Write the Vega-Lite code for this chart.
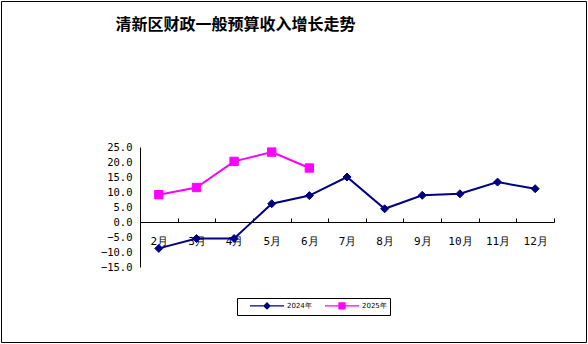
{
  "$schema": "https://vega.github.io/schema/vega-lite/v6.json",
  "width": 585,
  "height": 341,
  "autosize": {"type": "none"},
  "padding": {"left": 1, "top": 1, "right": 2, "bottom": 2},
  "background": "white",
  "config": {"view": {"stroke": "black", "strokeWidth": 1}},
  "data": {
    "values": [
      {"month": "2月", "series": "2024年", "value": -8.8},
      {"month": "3月", "series": "2024年", "value": -5.5},
      {"month": "4月", "series": "2024年", "value": -5.5},
      {"month": "5月", "series": "2024年", "value": 6.1},
      {"month": "6月", "series": "2024年", "value": 8.8},
      {"month": "7月", "series": "2024年", "value": 15.0},
      {"month": "8月", "series": "2024年", "value": 4.4},
      {"month": "9月", "series": "2024年", "value": 8.9},
      {"month": "10月", "series": "2024年", "value": 9.4},
      {"month": "11月", "series": "2024年", "value": 13.3},
      {"month": "12月", "series": "2024年", "value": 11.1},
      {"month": "2月", "series": "2025年", "value": 9.1},
      {"month": "3月", "series": "2025年", "value": 11.5},
      {"month": "4月", "series": "2025年", "value": 20.2},
      {"month": "5月", "series": "2025年", "value": 23.3},
      {"month": "6月", "series": "2025年", "value": 18.0}
    ]
  },
  "encoding": {
    "x": {
      "field": "month",
      "type": "ordinal",
      "bandPosition": 0.5,
      "sort": ["2月","3月","4月","5月","6月","7月","8月","9月","10月","11月","12月"],
      "scale": {
        "type": "band",
        "domain": ["2月","3月","4月","5月","6月","7月","8月","9月","10月","11月","12月"],
        "range": [139, 553],
        "paddingInner": 0,
        "paddingOuter": 0
      },
      "axis": {
        "title": null,
        "orient": "bottom",
        "offset": -120,
        "domainColor": "black",
        "domainWidth": 1,
        "tickBand": "extent",
        "tickColor": "black",
        "tickSize": -4,
        "labelAngle": 0,
        "labelPadding": 17,
        "labelFont": "DejaVu Sans Mono",
        "labelFontSize": 11,
        "labelColor": "black",
        "grid": false
      }
    },
    "y": {
      "field": "value",
      "type": "quantitative",
      "scale": {"domain": [-15, 25], "range": [266, 146], "nice": false, "zero": false},
      "axis": {
        "title": "清新区财政一般预算收入增长走势",
        "titleAngle": 0,
        "titleAlign": "left",
        "titleBaseline": "middle",
        "titleX": -25,
        "titleY": 23.5,
        "titleFont": "Noto Sans CJK SC",
        "titleFontSize": 16,
        "titleFontWeight": "bold",
        "titleColor": "black",
        "orient": "left",
        "offset": -139,
        "values": [-15, -10, -5, 0, 5, 10, 15, 20, 25],
        "format": ".1f",
        "grid": false,
        "ticks": false,
        "domainColor": "black",
        "domainWidth": 1,
        "labelPadding": 8,
        "labelFont": "DejaVu Sans Mono",
        "labelFontSize": 10.5,
        "labelColor": "black"
      }
    }
  },
  "layer": [
    {
      "mark": {"type": "line", "strokeWidth": 2},
      "encoding": {
        "color": {
          "field": "series",
          "type": "nominal",
          "scale": {"domain": ["2024年", "2025年"], "range": ["#000080", "#FF00FF"]},
          "legend": {
            "orient": "none",
            "legendX": 236,
            "legendY": 297,
            "direction": "horizontal",
            "title": null,
            "strokeColor": "black",
            "fillColor": "white",
            "padding": 3,
            "labelFont": "DejaVu Sans",
            "labelFontSize": 7,
            "labelColor": "black",
            "labelOffset": 38,
            "columnPadding": 3,
            "symbolSize": 49,
            "symbolStrokeWidth": 1.3,
            "encode": {
              "symbols": {
                "update": {
                  "shape": {"signal": "datum.value === '2024年' ? 'M1.57,0H11.3M6.43,-0.86L7.29,0L6.43,0.86L5.57,0Z' : 'M1.57,0H11.3M5.57,-0.86H7.29V0.86H5.57Z'"},
                  "fill": {"signal": "datum.value === '2024年' ? '#000080' : '#FF00FF'"},
                  "stroke": {"signal": "datum.value === '2024年' ? '#000080' : '#FF00FF'"},
                  "opacity": {"value": 1}
                }
              }
            }
          }
        }
      }
    },
    {
      "transform": [{"filter": "datum.series === '2024年'"}],
      "mark": {"type": "point", "shape": "diamond", "filled": true, "size": 64, "opacity": 1, "color": "#000080", "stroke": "#000080", "strokeWidth": 1}
    },
    {
      "transform": [{"filter": "datum.series === '2025年'"}],
      "mark": {"type": "point", "shape": "square", "filled": true, "size": 70, "opacity": 1, "color": "#FF00FF", "stroke": "#FF00FF", "strokeWidth": 1}
    }
  ]
}
